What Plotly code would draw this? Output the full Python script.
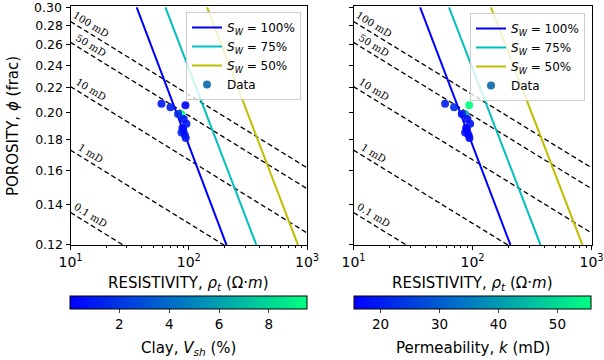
import numpy as np
import plotly.graph_objects as go

# ---------------- data ----------------
phi_ends = [0.30, 0.12]                 # porosity range of the Sw lines
sw_labels = ["100%", "75%", "50%"]
sw_rt_top = [36.3, 63.5, 142.9]         # Rt at phi = 0.30
sw_rt_bottom = [208.5, 373.0, 839.0]    # Rt at phi = 0.12

perm_labels = ["100", "50", "10", "1", "0.1"]
rt_ends = [10, 1000]
perm_phi_left = [0.284, 0.262, 0.221, 0.173, 0.136]     # phi at Rt = 10
perm_phi_right = [0.1616, 0.1491, 0.1257, 0.0984, 0.0774]  # phi at Rt = 1000

data_rt = [58.8, 70.0, 93.7, 86.7, 81.2, 90.7, 95.6, 88.4, 86.7, 92.5, 94.3, 90.0]
data_phi = [0.2068, 0.2041, 0.2057, 0.1987, 0.1988, 0.1950, 0.1915, 0.1883, 0.1851, 0.1835, 0.1812, 0.1870]
data_clay = [0.8, 1.2, 0.03, 9.54, 1.5, 0.6, 0.9, 0.5, 2.0, 0.7, 1.0, 0.4]
data_perm = [20.0, 22.0, 55.7, 40.0, 18.0, 17.0, 19.0, 16.0, 18.0, 15.5, 17.0, 16.5]

x_tickvals = [10, 100, 1000]
x_ticktext = ["10<sup>1</sup>", "10<sup>2</sup>", "10<sup>3</sup>"]
y_tickvals = [0.12, 0.14, 0.16, 0.18, 0.20, 0.22, 0.24, 0.26, 0.28, 0.30]
y_ticktext = ["%.2f" % v for v in y_tickvals]
minor_x = [20, 30, 40, 50, 60, 70, 80, 90, 200, 300, 400, 500, 600, 700, 800, 900]
clay_ticks = [2, 4, 6, 8]
perm_ticks = [20, 30, 40, 50]

# ---------------- styles ----------------
sw_colors = ["#0000ff", "#00bfbf", "#bfbf00"]
winter = [[0, "rgb(0,0,255)"], [1, "rgb(0,255,128)"]]
FONT = "DejaVu Sans"

fig = go.Figure()
panels = [("x", "y", "legend", "coloraxis", data_clay),
          ("x2", "y2", "legend2", "coloraxis2", data_perm)]

label_rt = 14.3
slope = [np.log10(pr / pl) / 2.0 for pl, pr in zip(perm_phi_left, perm_phi_right)]

for xa, ya, lg, ca, cvals in panels:
    for lab, pl, pr in zip(perm_labels, perm_phi_left, perm_phi_right):
        fig.add_trace(go.Scatter(x=rt_ends, y=[pl, pr], mode="lines",
                                 line=dict(color="black", width=1.3, dash="5px,3px"),
                                 xaxis=xa, yaxis=ya, showlegend=False, hoverinfo="skip"))
    for lab, col, rt0, rt1 in zip(sw_labels, sw_colors, sw_rt_top, sw_rt_bottom):
        fig.add_trace(go.Scatter(x=[rt0, rt1], y=phi_ends, mode="lines",
                                 line=dict(color=col, width=2),
                                 name="<i>S<sub>W</sub></i> = " + lab, legend=lg,
                                 xaxis=xa, yaxis=ya))
    fig.add_trace(go.Scatter(x=data_rt, y=data_phi, mode="markers",
                             marker=dict(color=cvals, coloraxis=ca, size=8, opacity=0.9),
                             xaxis=xa, yaxis=ya, showlegend=False))
    fig.add_trace(go.Scatter(x=[None], y=[None], mode="markers",
                             marker=dict(color="#1f77b4", size=8),
                             name="Data", legend=lg, xaxis=xa, yaxis=ya))
    # permeability labels
    for lab, pl, s in zip(perm_labels, perm_phi_left, slope):
        phi_lab = np.log10(pl) + s * np.log10(label_rt / 10.0)
        fig.add_annotation(x=np.log10(label_rt), y=phi_lab, xref=xa, yref=ya,
                           text=lab + " mD", showarrow=False, textangle=31.7,
                           yshift=8, xshift=2,
                           font=dict(family="DejaVu Serif", size=10, color="black"),
                           xanchor="center", yanchor="middle")

W, H = 604, 360
def px(v): return v / W
def py(v): return 1 - v / H

ytop = 0.301
xdom1 = [px(70.5), px(307)]
xdom2 = [px(353.5), px(591.5)]
ydom = [py(245), py(7.3 - 598 * np.log10(ytop / 0.30))]

def xaxis(dom, anchor):
    return dict(domain=dom, anchor=anchor, type="log", range=[1, 3], automargin=False,
                tickvals=x_tickvals, ticktext=x_ticktext, ticks="outside", ticklen=4,
                tickwidth=1, tickcolor="black",
                showline=True, mirror=True, linecolor="black", linewidth=1,
                showgrid=False, zeroline=False, tickfont=dict(size=14, color="black"),
                minor=dict(tickvals=minor_x, ticks="outside", ticklen=2, tickcolor="black",
                           showgrid=False))

def yaxis(anchor, labels):
    return dict(domain=ydom, anchor=anchor, type="log", automargin=False,
                range=[np.log10(0.11999), np.log10(ytop)],
                tickvals=y_tickvals, ticktext=y_ticktext[:-1] + [""], showticklabels=labels,
                ticks="outside", ticklen=4, tickwidth=1, tickcolor="black",
                showline=True, mirror=True, linecolor="black", linewidth=1,
                showgrid=False, zeroline=False, tickfont=dict(size=12.5, color="black"))

def cbar(xc, ticks):
    return dict(orientation="h", x=xc, xanchor="center", y=py(296), yanchor="top",
                len=237, lenmode="pixels", thickness=13, thicknessmode="pixels",
                outlinewidth=1, outlinecolor="black", ticks="outside", ticklen=4,
                tickvals=ticks, tickfont=dict(size=13.5, color="black"), xpad=0, ypad=0)

legend_style = dict(bgcolor="rgba(255,255,255,0.8)", bordercolor="#cccccc", borderwidth=1,
                    font=dict(size=12, family=FONT, color="black"), xanchor="right",
                    yanchor="top", tracegroupgap=0, itemwidth=30)

fig.update_layout(
    width=W, height=H, margin=dict(l=0, r=0, t=0, b=0, autoexpand=False),
    paper_bgcolor="white", plot_bgcolor="white",
    font=dict(family=FONT, color="black"),
    xaxis=xaxis(xdom1, "y"), yaxis=yaxis("x", True),
    xaxis2=xaxis(xdom2, "y2"), yaxis2=yaxis("x2", False),
    legend=dict(x=px(301), y=py(12), **legend_style),
    legend2=dict(x=px(585), y=py(13), **legend_style),
    coloraxis=dict(colorscale=winter, colorbar=cbar((70.5 + 307) / 2 / W, clay_ticks)),
    coloraxis2=dict(colorscale=winter, colorbar=cbar((353.5 + 591.5) / 2 / W, perm_ticks)),
)

# top tick label of the porosity axis (plotly drops it at the very edge)
fig.add_annotation(x=px(64), y=np.log10(y_tickvals[-1]), xref="paper", yref="y",
                   text=y_ticktext[-1], showarrow=False, xanchor="right", yanchor="middle",
                   font=dict(size=12.5, color="black"))

# axis titles
fig.add_annotation(x=px(13), y=py(126), xref="paper", yref="paper", showarrow=False,
                   text="POROSITY, <i>ϕ</i> (frac)", textangle=-90,
                   font=dict(size=15, color="black"), xanchor="center", yanchor="middle")
for xc in [(70.5 + 307) / 2, (353.5 + 591.5) / 2]:
    fig.add_annotation(x=px(xc), y=py(283), xref="paper", yref="paper", showarrow=False,
                       text="RESISTIVITY, <i>ρ<sub>t</sub></i> (Ω·<i>m</i>)",
                       font=dict(size=15, color="black"), xanchor="center", yanchor="middle")
fig.add_annotation(x=px((70.5 + 307) / 2), y=py(348), xref="paper", yref="paper",
                   showarrow=False, text="Clay, <i>V<sub>sh</sub></i> (%)",
                   font=dict(size=15, color="black"), xanchor="center", yanchor="middle")
fig.add_annotation(x=px((353.5 + 591.5) / 2), y=py(348), xref="paper", yref="paper",
                   showarrow=False, text="Permeability, <i>k</i> (mD)",
                   font=dict(size=15, color="black"), xanchor="center", yanchor="middle")

fig.write_html("out.html", config={"displayModeBar": False},
               post_script="document.body.style.margin='0px';"
                           "document.body.style.overflow='hidden';")
